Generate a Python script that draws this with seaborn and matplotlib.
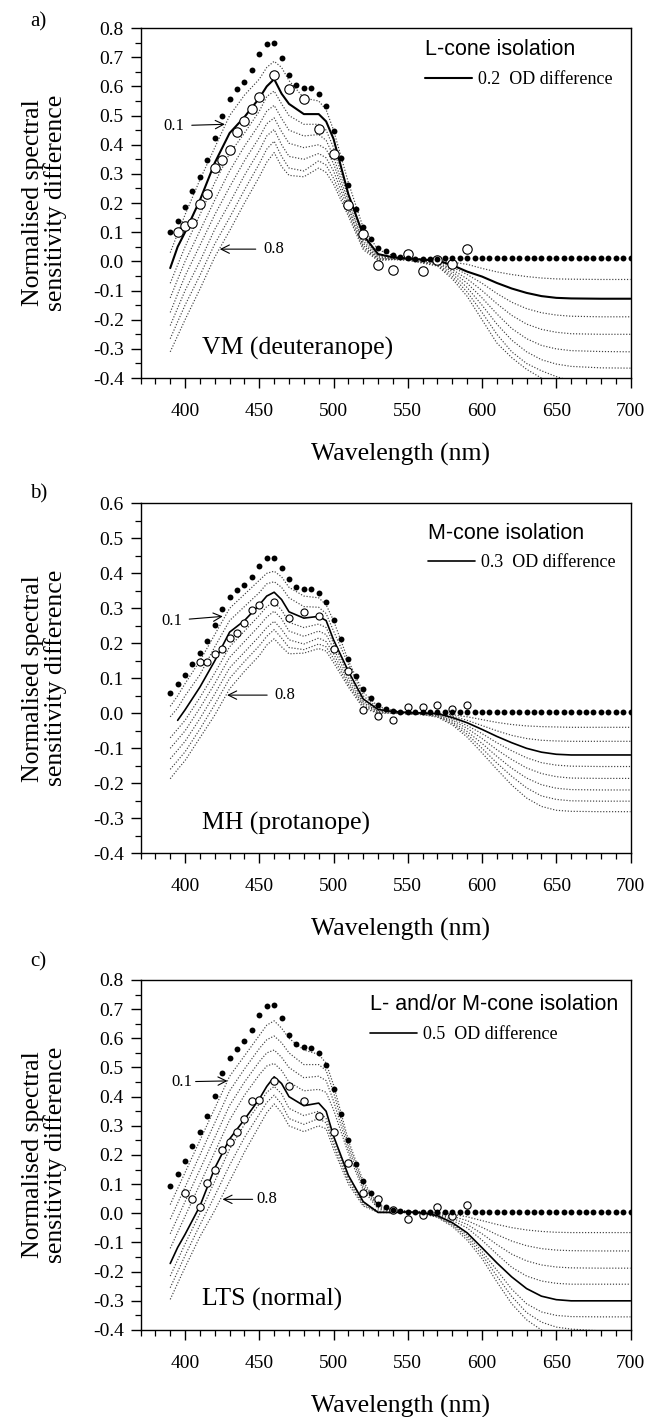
import matplotlib.pyplot as plt
from matplotlib.ticker import MultipleLocator, FormatStrFormatter
import numpy as np
import seaborn as sns

# wavelength grid for the model curves (nm)
wl_grid = [390, 395, 400, 410, 420, 430, 440, 450, 455, 460, 465, 470, 480, 490, 495, 500,
           510, 520, 530, 540, 550, 560, 570, 580, 590, 600, 610, 620, 630, 640, 650, 660, 680, 700]
od_levels = [0.1, 0.2, 0.3, 0.4, 0.5, 0.6, 0.7, 0.8]

# a) VM, L-cone isolation - one row per OD difference
a_curves = [
    [0.03, 0.095, 0.16, 0.28, 0.39, 0.5, 0.57, 0.625, 0.665, 0.686, 0.665, 0.62, 0.56, 0.55, 0.52, 0.45,
     0.27, 0.115, 0.04, 0.02, 0.012, 0.008, 0.004, -0.003, -0.01, -0.024, -0.036, -0.045, -0.052, -0.057, -0.06, -0.061, -0.062, -0.062],
    [-0.023, 0.05, 0.10, 0.21, 0.338, 0.44, 0.495, 0.56, 0.60, 0.625, 0.575, 0.54, 0.505, 0.505, 0.48, 0.42,
     0.23, 0.09, 0.025, 0.014, 0.01, 0.006, 0.003, -0.013, -0.035, -0.052, -0.074, -0.093, -0.108, -0.119, -0.125, -0.127, -0.128, -0.128],
    [-0.075, -0.012, 0.05, 0.16, 0.27, 0.37, 0.44, 0.515, 0.565, 0.584, 0.54, 0.5, 0.47, 0.47, 0.45, 0.39,
     0.215, 0.08, 0.02, 0.012, 0.009, 0.004, 0.0, -0.02, -0.045, -0.075, -0.11, -0.14, -0.162, -0.176, -0.184, -0.188, -0.19, -0.19],
    [-0.125, -0.062, 0.0, 0.105, 0.21, 0.31, 0.395, 0.47, 0.515, 0.535, 0.49, 0.45, 0.43, 0.435, 0.415, 0.36,
     0.2, 0.07, 0.016, 0.01, 0.008, 0.002, -0.003, -0.028, -0.06, -0.1, -0.145, -0.185, -0.215, -0.233, -0.243, -0.248, -0.25, -0.25],
    [-0.175, -0.112, -0.05, 0.055, 0.16, 0.255, 0.345, 0.425, 0.472, 0.492, 0.445, 0.405, 0.39, 0.4, 0.385, 0.335,
     0.188, 0.062, 0.012, 0.009, 0.007, 0.0, -0.006, -0.035, -0.075, -0.125, -0.18, -0.23, -0.265, -0.288, -0.3, -0.306, -0.309, -0.31],
    [-0.22, -0.16, -0.1, 0.0, 0.11, 0.2, 0.295, 0.38, 0.43, 0.452, 0.4, 0.36, 0.35, 0.37, 0.355, 0.31,
     0.176, 0.054, 0.009, 0.008, 0.006, -0.002, -0.01, -0.043, -0.09, -0.15, -0.215, -0.27, -0.31, -0.337, -0.352, -0.36, -0.365, -0.366],
    [-0.265, -0.207, -0.15, -0.048, 0.06, 0.15, 0.245, 0.335, 0.385, 0.412, 0.36, 0.32, 0.31, 0.345, 0.33, 0.285,
     0.165, 0.047, 0.006, 0.007, 0.005, -0.004, -0.013, -0.052, -0.105, -0.175, -0.25, -0.31, -0.35, -0.375, -0.395, -0.41, -0.418, -0.42],
    [-0.31, -0.255, -0.2, -0.095, 0.015, 0.105, 0.2, 0.29, 0.34, 0.373, 0.325, 0.295, 0.29, 0.32, 0.305, 0.265,
     0.155, 0.04, 0.003, 0.006, 0.004, -0.006, -0.016, -0.06, -0.12, -0.2, -0.28, -0.33, -0.37, -0.4, -0.43, -0.45, -0.47, -0.475],
]
a_filled = [0.10, 0.14, 0.185, 0.24, 0.29, 0.347, 0.423, 0.50, 0.558, 0.59, 0.615, 0.657, 0.71, 0.745, 0.748, 0.698,
            0.64, 0.605, 0.594, 0.593, 0.573, 0.532, 0.448, 0.355, 0.262, 0.178, 0.117, 0.077, 0.045, 0.034, 0.022, 0.015,
            0.011, 0.008, 0.008, 0.008, 0.009, 0.01, 0.01, 0.01, 0.01, 0.01, 0.01, 0.01, 0.01, 0.01, 0.01, 0.01,
            0.01, 0.01, 0.01, 0.01, 0.01, 0.01, 0.01, 0.01, 0.01, 0.01, 0.01, 0.01, 0.01, 0.01, 0.01]
a_open_wl = [395, 400, 405, 410, 415, 420, 425, 430, 435, 440, 445, 450, 460, 470, 480, 490, 500,
             510, 520, 530, 540, 550, 560, 570, 580, 590]
a_open = [0.10, 0.12, 0.13, 0.198, 0.232, 0.32, 0.348, 0.383, 0.443, 0.48, 0.523, 0.563, 0.638, 0.59, 0.556, 0.453, 0.367,
          0.192, 0.093, -0.013, -0.029, 0.027, -0.033, 0.005, -0.008, 0.041]

# b) MH, M-cone isolation
b_curves = [
    [0.02, 0.05, 0.085, 0.15, 0.225, 0.3, 0.34, 0.38, 0.4, 0.406, 0.39, 0.36, 0.335, 0.33, 0.31, 0.265,
     0.15, 0.06, 0.02, 0.008, 0.004, 0.002, 0.0, -0.004, -0.01, -0.018, -0.026, -0.032, -0.036, -0.038, -0.039, -0.04, -0.04, -0.04],
    [-0.01, 0.015, 0.05, 0.11, 0.19, 0.265, 0.305, 0.345, 0.37, 0.376, 0.36, 0.33, 0.305, 0.303, 0.285, 0.235,
     0.14, 0.05, 0.015, 0.006, 0.003, 0.001, -0.001, -0.008, -0.02, -0.035, -0.05, -0.063, -0.072, -0.077, -0.079, -0.08, -0.08, -0.08],
    [np.nan, -0.02, 0.01, 0.075, 0.15, 0.232, 0.265, 0.31, 0.335, 0.346, 0.325, 0.29, 0.272, 0.277, 0.265, 0.21,
     0.12, 0.041, 0.011, 0.005, 0.002, 0.001, -0.001, -0.012, -0.027, -0.046, -0.066, -0.084, -0.1, -0.111, -0.117, -0.119, -0.119, -0.119],
    [-0.07, -0.045, -0.02, 0.045, 0.115, 0.19, 0.235, 0.28, 0.305, 0.318, 0.295, 0.26, 0.245, 0.255, 0.245, 0.2,
     0.11, 0.035, 0.008, 0.004, 0.002, 0.0, -0.003, -0.016, -0.035, -0.058, -0.084, -0.107, -0.127, -0.141, -0.148, -0.151, -0.152, -0.152],
    [-0.1, -0.075, -0.05, 0.015, 0.085, 0.16, 0.205, 0.25, 0.275, 0.292, 0.27, 0.235, 0.22, 0.235, 0.225, 0.185,
     0.1, 0.03, 0.006, 0.003, 0.001, -0.001, -0.005, -0.02, -0.043, -0.072, -0.104, -0.132, -0.156, -0.172, -0.181, -0.185, -0.186, -0.186],
    [-0.13, -0.105, -0.08, -0.015, 0.055, 0.13, 0.175, 0.22, 0.245, 0.263, 0.24, 0.21, 0.198, 0.215, 0.205, 0.17,
     0.09, 0.025, 0.004, 0.002, 0.0, -0.002, -0.007, -0.025, -0.052, -0.086, -0.123, -0.157, -0.185, -0.204, -0.214, -0.218, -0.219, -0.219],
    [-0.16, -0.135, -0.11, -0.045, 0.025, 0.1, 0.148, 0.193, 0.22, 0.239, 0.215, 0.188, 0.182, 0.198, 0.19, 0.157,
     0.082, 0.02, 0.002, 0.001, -0.001, -0.003, -0.009, -0.029, -0.06, -0.1, -0.142, -0.18, -0.213, -0.236, -0.246, -0.25, -0.251, -0.251],
    [-0.187, -0.16, -0.135, -0.07, -0.005, 0.07, 0.12, 0.165, 0.195, 0.213, 0.19, 0.17, 0.172, 0.185, 0.178, 0.145,
     0.075, 0.015, 0.0, 0.0, -0.002, -0.004, -0.011, -0.033, -0.068, -0.113, -0.16, -0.205, -0.242, -0.266, -0.277, -0.28, -0.281, -0.281],
]
b_filled = [0.058, 0.085, 0.11, 0.142, 0.172, 0.207, 0.252, 0.297, 0.332, 0.353, 0.366, 0.39, 0.422, 0.443, 0.444, 0.415,
            0.383, 0.362, 0.356, 0.354, 0.343, 0.317, 0.267, 0.212, 0.156, 0.107, 0.069, 0.044, 0.025, 0.013, 0.008, 0.005,
            0.003, 0.003, 0.003, 0.003, 0.003, 0.003, 0.003, 0.003, 0.003, 0.003, 0.003, 0.003, 0.003, 0.003, 0.003, 0.003,
            0.003, 0.003, 0.003, 0.003, 0.003, 0.003, 0.003, 0.003, 0.003, 0.003, 0.003, 0.003, 0.003, 0.003, 0.003]
b_open_wl = [410, 415, 420, 425, 430, 435, 440, 445, 450, 460, 470, 480, 490, 500, 510, 520, 530, 540,
             550, 560, 570, 580, 590]
b_open = [0.147, 0.147, 0.17, 0.185, 0.215, 0.23, 0.257, 0.295, 0.31, 0.318, 0.273, 0.29, 0.277, 0.183, 0.12, 0.01,
          -0.009, -0.02, 0.017, 0.017, 0.025, 0.013, 0.023]

# c) LTS, L- and/or M-cone isolation
c_curves = [
    [0.03, 0.085, 0.14, 0.25, 0.36, 0.47, 0.54, 0.61, 0.645, 0.66, 0.635, 0.6, 0.56, 0.545, 0.515, 0.44,
     0.25, 0.11, 0.03, 0.012, 0.008, 0.006, 0.003, -0.003, -0.012, -0.025, -0.038, -0.049, -0.057, -0.062, -0.065, -0.066, -0.066, -0.066],
    [-0.02, 0.035, 0.09, 0.2, 0.31, 0.42, 0.495, 0.565, 0.595, 0.608, 0.585, 0.55, 0.51, 0.51, 0.49, 0.415,
     0.235, 0.1, 0.025, 0.01, 0.007, 0.005, 0.0, -0.01, -0.025, -0.048, -0.073, -0.095, -0.111, -0.121, -0.126, -0.128, -0.129, -0.129],
    [-0.07, -0.015, 0.04, 0.15, 0.26, 0.37, 0.45, 0.52, 0.55, 0.56, 0.535, 0.5, 0.465, 0.47, 0.455, 0.385,
     0.22, 0.09, 0.02, 0.008, 0.006, 0.004, -0.003, -0.017, -0.038, -0.07, -0.107, -0.14, -0.163, -0.177, -0.184, -0.187, -0.188, -0.188],
    [-0.12, -0.065, -0.01, 0.1, 0.21, 0.32, 0.405, 0.475, 0.505, 0.514, 0.49, 0.45, 0.42, 0.425, 0.415, 0.355,
     0.205, 0.08, 0.015, 0.006, 0.005, 0.003, -0.006, -0.024, -0.05, -0.092, -0.14, -0.185, -0.215, -0.232, -0.24, -0.243, -0.243, -0.243],
    [-0.172, -0.117, -0.072, 0.025, 0.155, 0.255, 0.322, 0.392, 0.435, 0.468, 0.445, 0.4, 0.369, 0.378, 0.35, 0.265,
     0.13, 0.04, 0.003, 0.003, 0.005, 0.002, -0.008, -0.032, -0.067, -0.118, -0.17, -0.218, -0.258, -0.284, -0.296, -0.3, -0.3, -0.3],
    [-0.215, -0.16, -0.105, 0.0, 0.11, 0.22, 0.305, 0.375, 0.415, 0.435, 0.41, 0.36, 0.335, 0.35, 0.325, 0.25,
     0.12, 0.035, 0.008, 0.004, 0.004, 0.001, -0.01, -0.036, -0.075, -0.13, -0.195, -0.26, -0.31, -0.338, -0.35, -0.354, -0.355, -0.355],
    [-0.255, -0.2, -0.145, -0.04, 0.06, 0.165, 0.26, 0.34, 0.38, 0.405, 0.375, 0.325, 0.305, 0.325, 0.31, 0.235,
     0.11, 0.03, 0.005, 0.003, 0.003, 0.0, -0.012, -0.04, -0.083, -0.142, -0.215, -0.285, -0.34, -0.373, -0.39, -0.397, -0.403, -0.405],
    [-0.295, -0.24, -0.185, -0.08, 0.01, 0.11, 0.21, 0.3, 0.345, 0.375, 0.345, 0.3, 0.28, 0.3, 0.29, 0.22,
     0.1, 0.025, 0.003, 0.002, 0.002, -0.001, -0.014, -0.045, -0.092, -0.155, -0.235, -0.31, -0.365, -0.4, -0.425, -0.44, -0.452, -0.455],
]
c_filled = [0.095, 0.134, 0.179, 0.23, 0.28, 0.334, 0.402, 0.48, 0.534, 0.565, 0.59, 0.63, 0.681, 0.712, 0.714, 0.668,
            0.61, 0.58, 0.57, 0.566, 0.549, 0.51, 0.426, 0.34, 0.25, 0.169, 0.111, 0.071, 0.031, 0.02, 0.011, 0.008,
            0.005, 0.005, 0.005, 0.005, 0.005, 0.005, 0.005, 0.005, 0.005, 0.005, 0.005, 0.005, 0.005, 0.005, 0.005, 0.005,
            0.005, 0.005, 0.005, 0.005, 0.005, 0.005, 0.005, 0.005, 0.005, 0.005, 0.005, 0.005, 0.005, 0.005, 0.005]
c_open_wl = [400, 405, 410, 415, 420, 425, 430, 435, 440, 445, 450, 460, 470, 480, 490, 500, 510, 520,
             530, 540, 550, 560, 570, 580, 590]
c_open = [0.07, 0.048, 0.02, 0.104, 0.15, 0.216, 0.246, 0.279, 0.325, 0.385, 0.387, 0.453, 0.437, 0.385, 0.333, 0.28,
          0.172, 0.07, 0.048, 0.011, -0.02, -0.006, 0.022, -0.009, 0.029]

filled_wl = list(range(390, 705, 5))

panels = [
    dict(tag="a)", curves=a_curves, filled=a_filled, open_wl=a_open_wl, open_v=a_open, solid=0.2,
         ylim=(-0.4, 0.8), title="L-cone isolation", subject="VM (deuteranope)", circ=46, solid_lw=1.5,
         leg_anchor=(0.581, 0.968), tag_y=0.9845, bottom=0.7332,
         ann01=((426.8, 0.47), (399.5, 0.465), 3), ann08=((423.4, 0.042), (452.6, 0.042), 3)),
    dict(tag="b)", curves=b_curves, filled=b_filled, open_wl=b_open_wl, open_v=b_open, solid=0.3,
         ylim=(-0.4, 0.6), title="M-cone isolation", subject="MH (protanope)", circ=26, solid_lw=1.2,
         leg_anchor=(0.586, 0.945), tag_y=0.6514, bottom=0.3978,
         ann01=((425.4, 0.277), (397.8, 0.265), 3), ann08=((428.3, 0.052), (460.3, 0.052), 3)),
    dict(tag="c)", curves=c_curves, filled=c_filled, open_wl=c_open_wl, open_v=c_open, solid=0.5,
         ylim=(-0.4, 0.8), title="L- and/or M-cone isolation", subject="LTS (normal)", circ=28, solid_lw=1.2,
         leg_anchor=(0.468, 0.96), tag_y=0.321, bottom=0.0614,
         ann01=((428.6, 0.454), (404.9, 0.451), 0), ann08=((425.2, 0.048), (447.7, 0.048), 0)),
]

sns.set_style("ticks")
plt.rcParams["font.family"] = ["Liberation Serif", "DejaVu Serif"]
plt.rcParams["axes.unicode_minus"] = False
plt.rcParams["text.color"] = "black"
plt.rcParams["axes.labelcolor"] = "black"
plt.rcParams["xtick.color"] = "black"
plt.rcParams["ytick.color"] = "black"

fig = plt.figure(figsize=(6.47, 14.17), dpi=100)

for p in panels:
    ax = fig.add_axes([0.2172, p["bottom"], 0.7573, 0.2470])

    for od, vals in zip(od_levels, p["curves"]):
        if abs(od - p["solid"]) < 1e-9:
            sns.lineplot(x=wl_grid, y=vals, ax=ax, color="black", lw=p["solid_lw"],
                         label=f"{od:.1f}  OD difference", zorder=3)
        else:
            sns.lineplot(x=wl_grid, y=vals, ax=ax, color="0.25", lw=0.85,
                         linestyle=(0, (1, 1.5)), zorder=2)

    sns.scatterplot(x=p["open_wl"], y=p["open_v"], ax=ax, s=p["circ"], marker="o",
                    facecolor="white", edgecolor="black", linewidth=0.8, zorder=4)
    sns.scatterplot(x=filled_wl, y=p["filled"], ax=ax, s=18, marker="o",
                    color="black", edgecolor="black", linewidth=0, zorder=5)

    ax.set_xlim(370, 700)
    ax.set_ylim(*p["ylim"])
    ax.xaxis.set_major_locator(MultipleLocator(50))
    ax.xaxis.set_minor_locator(MultipleLocator(10))
    ax.yaxis.set_major_locator(MultipleLocator(0.1))
    ax.yaxis.set_minor_locator(MultipleLocator(0.05))
    ax.yaxis.set_major_formatter(FormatStrFormatter("%.1f"))
    ax.set_xticks([400, 450, 500, 550, 600, 650, 700])
    ax.tick_params(axis="both", which="major", direction="out", length=7, width=1.0, labelsize=14)
    ax.tick_params(axis="both", which="minor", direction="out", length=4, width=0.9)
    ax.tick_params(axis="x", which="major", pad=11)
    ax.tick_params(axis="y", which="major", pad=5)
    for s in ax.spines.values():
        s.set_color("black")
        s.set_linewidth(1.0)

    ax.set_xlabel("Wavelength (nm)", fontsize=18.5)
    ax.xaxis.set_label_coords(0.53, -0.185)
    ax.set_ylabel("Normalised spectral\nsensitivity difference", fontsize=18.5, linespacing=1.0)
    ax.yaxis.set_label_coords(-0.15, 0.5)

    ax.text(0.126, 0.086, p["subject"], transform=ax.transAxes, fontsize=18.5, ha="left", va="center")

    for (tip, txt_pos, shrink), lab, ha in ((p["ann01"], "0.1", "right"), (p["ann08"], "0.8", "left")):
        ax.annotate(lab, xy=tip, xytext=txt_pos, ha=ha, va="center", fontsize=12,
                    arrowprops=dict(arrowstyle="->,head_length=0.5,head_width=0.25", lw=0.8,
                                    color="black", shrinkA=shrink, shrinkB=0))

    ax.legend(title=p["title"], loc="upper left", bbox_to_anchor=p["leg_anchor"], frameon=False,
              handlelength=2.6, handletextpad=0.35, borderpad=0, borderaxespad=0, labelspacing=0.6,
              prop={"family": ["Liberation Serif"], "size": 13},
              title_fontproperties={"family": ["Liberation Sans"], "size": 15.5}, alignment="left")

    fig.text(0.059, p["tag_y"], p["tag"], fontsize=15, ha="center", va="center")

fig.savefig("out.png", dpi=100)
